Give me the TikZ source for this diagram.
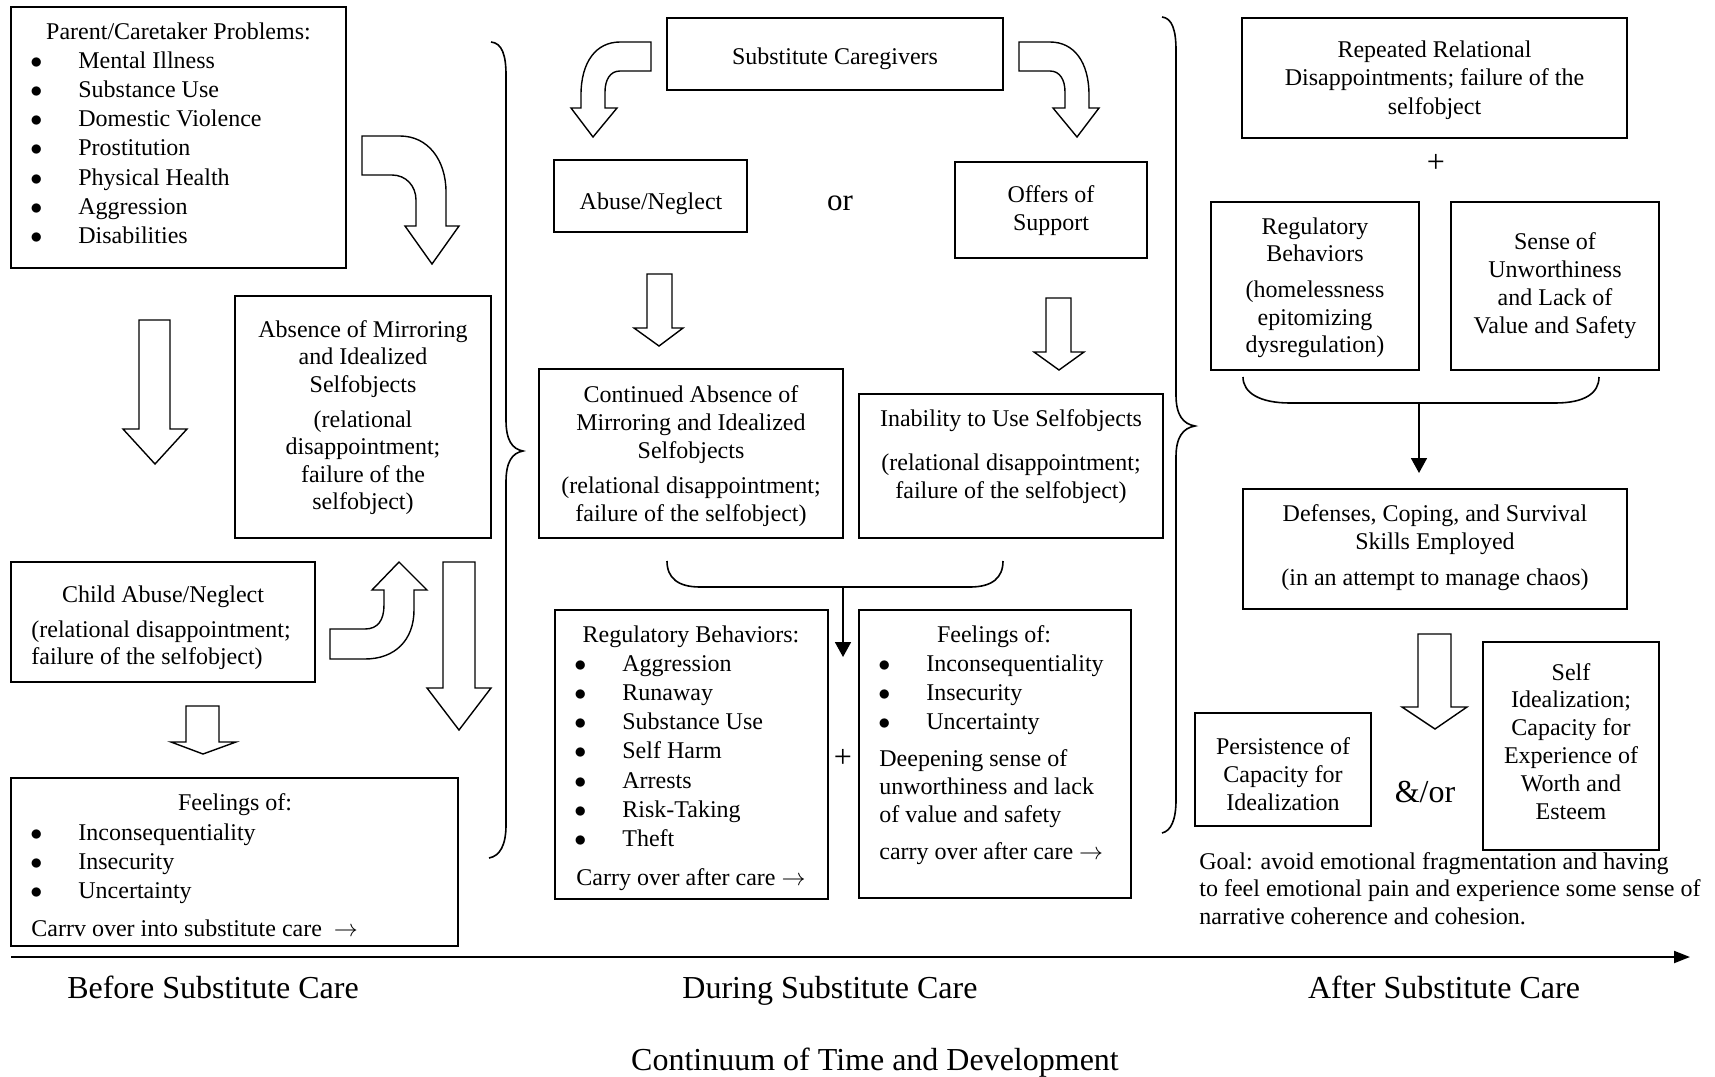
\documentclass[tikz,border=0pt]{standalone}
\usepackage{fontspec}
\setmainfont{Liberation Serif}
\usetikzlibrary{fit,arrows.meta}
\newcommand\ml[2][c]{\begin{tabular}[t]{@{}#1@{}}#2\end{tabular}}
\newcommand\bl{\makebox[24pt][l]{$\bullet$}}
\newcommand\fs[1]{\fontsize{12}{#1}\selectfont}
\begin{document}
\begin{tikzpicture}[x=0.5pt,y=-0.5pt,
  box/.style={draw,line width=1.1pt,inner sep=0pt},
  txt/.style={inner sep=0pt,anchor=base,font=\fs{14pt}},
  ltxt/.style={txt,anchor=base west},
  blk/.style={draw,line width=0.7pt,line join=miter},
  brc/.style={draw,line width=0.8pt},
  conn/.style={draw,line width=0.9pt,-{Triangle[length=7.5pt,width=8pt]}},
  plus/.style={inner sep=0pt,anchor=base,font=\fontsize{16}{19}\selectfont},
  big/.style={inner sep=0pt,anchor=base,font=\fontsize{16}{19}\selectfont}]
\useasboundingbox (0,0) rectangle (1715,1077);

% ---------------- Before substitute care ----------------
\node[box,fit={(11,7) (346,268)}] (P) {};
\node[txt] (Pt) at (178.5,39) {Parent/Caretaker Problems:};
\node[ltxt,font=\fs{14.65pt}] (Pl) at (30,68) {\ml[l]{\bl Mental Illness\\\bl Substance Use\\\bl Domestic Violence\\\bl Prostitution\\\bl Physical Health\\\bl Aggression\\\bl Disabilities}};

\node[box,fit={(235,296) (491,538)}] (Ab) {};
\node[txt,font=\fs{13.75pt}] (Abt) at (363,337) {\ml{Absence of Mirroring\\and Idealized\\Selfobjects\\[3.75pt](relational\\disappointment;\\failure of the\\selfobject)}};

\node[box,fit={(11,562) (315,682)}] (C) {};
\node[txt] (Ct) at (163,602) {Child Abuse/Neglect};
\node[ltxt,font=\fs{13.5pt}] (Cl) at (31,637) {\ml[l]{(relational disappointment;\\failure of the selfobject)}};

\node[box,fit={(11,778) (458,946)}] (F1) {};
\node[txt] (F1t) at (235,810) {Feelings of:};
\node[ltxt,font=\fs{14.5pt}] (F1l) at (30,840) {\ml[l]{\bl Inconsequentiality\\\bl Insecurity\\\bl Uncertainty}};
\node[ltxt] (F1c) at (31,936) {Carrv over into substitute care \ $\rightarrow$};

% block arrows (left)
\path[blk] (362,136) -- (400,136) .. controls (428,136) and (446,160) .. (446,192) -- (446,226) -- (459,226) -- (432,264) -- (405,226) -- (416,226) -- (416,200) .. controls (416,186) and (406,175) .. (392,175) -- (362,175) -- cycle;
\path[blk] (139,320) -- (170,320) -- (170,429) -- (187,429) -- (155,464) -- (123,429) -- (139,429) -- cycle;
\path[blk] (330,629) -- (365,629) .. controls (378,629) and (384,620) .. (384,605) -- (384,590) -- (372,590) -- (399,562) -- (427,590) -- (414,590) -- (414,610) .. controls (414,640) and (395,659) .. (365,659) -- (330,659) -- cycle;
\path[blk] (443,562) -- (475,562) -- (475,688) -- (491,688) -- (459,730) -- (427,688) -- (443,688) -- cycle;
\path[blk] (186,706) -- (219,706) -- (219,742) -- (236,742) -- (203,754) -- (171,742) -- (186,742) -- cycle;

% left brace
\path[brc] (491,42) .. controls (502,43) and (506,55) .. (506,75) -- (506,420) .. controls (506,440) and (512,449) .. (523,451) .. controls (512,453) and (506,462) .. (506,482) -- (506,825) .. controls (506,845) and (500,856) .. (489,858);

% ---------------- During substitute care ----------------
\node[box,fit={(667,18) (1003,90)}] (SC) {};
\node[txt] (SCt) at (835,64) {Substitute Caregivers};

\path[blk] (651,42) -- (620,42) .. controls (596,42) and (581,62) .. (581,95) -- (581,108) -- (571,108) -- (593,137) -- (617,108) -- (605,108) -- (605,92) .. controls (605,80) and (610,71) .. (620,71) -- (651,71) -- cycle;
\path[blk] (1019,42) -- (1050,42) .. controls (1074,42) and (1089,62) .. (1089,95) -- (1089,108) -- (1099,108) -- (1077,137) -- (1053,108) -- (1065,108) -- (1065,92) .. controls (1065,80) and (1060,71) .. (1050,71) -- (1019,71) -- cycle;

\node[box,fit={(554,160) (747,232)}] (AN) {};
\node[txt] (ANt) at (651,209) {Abuse/Neglect};
\node[inner sep=0pt,anchor=base,font=\fontsize{15.5}{18}\selectfont] (or) at (840,210) {or};
\node[box,fit={(955,162) (1147,258)}] (OS) {};
\node[txt] (OSt) at (1051,202) {\ml{Offers of\\Support}};

\path[blk] (647,274) -- (672,274) -- (672,328) -- (683,328) -- (659,346) -- (634,328) -- (647,328) -- cycle;
\path[blk] (1046,298) -- (1071,298) -- (1071,352) -- (1084,352) -- (1059,370) -- (1034,352) -- (1046,352) -- cycle;

\node[box,fit={(539,369) (843,538)}] (CA) {};
\node[txt] (CAt) at (691,402) {\ml{Continued Absence of\\Mirroring and Idealized\\Selfobjects\\[3.5pt](relational disappointment;\\failure of the selfobject)}};
\node[box,fit={(859,394) (1163,538)}] (IU) {};
\node[txt] (IUt) at (1011,426) {Inability to Use Selfobjects};
\node[txt] (IUl) at (1011,470) {\ml{(relational disappointment;\\failure of the selfobject)}};

% horizontal brace and arrow
\path[brc] (667,561) .. controls (667,578) and (678,587) .. (700,587) -- (970,587) .. controls (992,587) and (1003,578) .. (1003,561);
\coordinate (b2) at (843,586);
\coordinate (b2e) at (843,657);
\path[conn] (b2) -- (b2e);

\node[box,fit={(555,610) (828,899)}] (RB) {};
\node[txt] (RBt) at (691,642) {Regulatory Behaviors:};
\node[ltxt,font=\fs{14.65pt}] (RBl) at (574,671) {\ml[l]{\bl Aggression\\\bl Runaway\\\bl Substance Use\\\bl Self Harm\\\bl Arrests\\\bl Risk-Taking\\\bl Theft}};
\node[ltxt] (RBc) at (576,885) {Carry over after care $\rightarrow$};
\node[plus] (plus1) at (843,767) {+};

\node[box,fit={(859,610) (1131,898)}] (FM) {};
\node[txt] (FMt) at (994,642) {Feelings of:};
\node[ltxt,font=\fs{14.65pt}] (FMl) at (878,671) {\ml[l]{\bl Inconsequentiality\\\bl Insecurity\\\bl Uncertainty}};
\node[ltxt] (FMd) at (879,766) {\ml[l]{Deepening sense of\\unworthiness and lack\\of value and safety}};
\node[ltxt] (FMc) at (879,859) {carry over after care $\rightarrow$};

% right brace of middle section
\path[brc] (1162,17) .. controls (1172,18) and (1176,30) .. (1176,50) -- (1176,395) .. controls (1176,415) and (1183,424) .. (1195,426) .. controls (1183,428) and (1176,437) .. (1176,457) -- (1176,800) .. controls (1176,820) and (1171,831) .. (1162,833);

% ---------------- After substitute care ----------------
\node[box,fit={(1242,18) (1627,138)}] (RR) {};
\node[txt,font=\fs{14.25pt}] (RRt) at (1434.5,57) {\ml{Repeated Relational\\Disappointments; failure of the\\selfobject}};
\node[plus] (plus2) at (1436,172) {+};

\node[box,fit={(1211,202) (1419,370)}] (RBR) {};
\node[txt,font=\fs{13.75pt}] (RBRt) at (1315,234) {\ml{Regulatory\\Behaviors\\[4.25pt](homelessness\\epitomizing\\dysregulation)}};
\node[box,fit={(1451,202) (1659,370)}] (SU) {};
\node[txt] (SUt) at (1555,249) {\ml{Sense of\\Unworthiness\\and Lack of\\Value and Safety}};

\path[brc] (1243,377) .. controls (1243,393) and (1260,403) .. (1290,403) -- (1555,403) .. controls (1585,403) and (1599,393) .. (1599,377);
\coordinate (b4) at (1419,402);
\path[conn] (b4) -- (1419,473) coordinate (b4e);

\node[box,fit={(1243,489) (1627,609)}] (DC) {};
\node[txt] (DCt) at (1435,521) {\ml{Defenses, Coping, and Survival\\Skills Employed\\[4pt](in an attempt to manage chaos)}};

\path[blk] (1418,634) -- (1451,634) -- (1451,707) -- (1467,707) -- (1435,729) -- (1402,707) -- (1418,707) -- cycle;

\node[box,fit={(1195,713) (1371,826)}] (PC) {};
\node[txt] (PCt) at (1283,754) {\ml{Persistence of\\Capacity for\\Idealization}};
\node[inner sep=0pt,anchor=base,font=\fontsize{16}{19}\selectfont] (andor) at (1425,802) {\&/or};
\node[box,fit={(1483,642) (1659,850)}] (SI) {};
\node[txt,font=\fs{13.9pt}] (SIt) at (1571,680) {\ml{Self\\Idealization;\\Capacity for\\Experience of\\Worth and\\Esteem}};

\node[ltxt,font=\fs{13.75pt}] (goal) at (1199,869) {\ml[l]{Goal: avoid emotional fragmentation and having\\to feel emotional pain and experience some sense of\\narrative coherence and cohesion.}};

% ---------------- time axis ----------------
\coordinate (ax0) at (11,957);
\coordinate (ax1) at (1690,957);
\path[draw,line width=1pt,-{Triangle[length=8pt,width=6pt]}] (ax0) -- (ax1);
\node[big] (L1) at (213,998) {Before Substitute Care};
\node[big] (L2) at (830,998) {During Substitute Care};
\node[big] (L3) at (1444,998) {After Substitute Care};
\node[big] (L4) at (875,1070) {Continuum of Time and Development};
\end{tikzpicture}
\end{document}
